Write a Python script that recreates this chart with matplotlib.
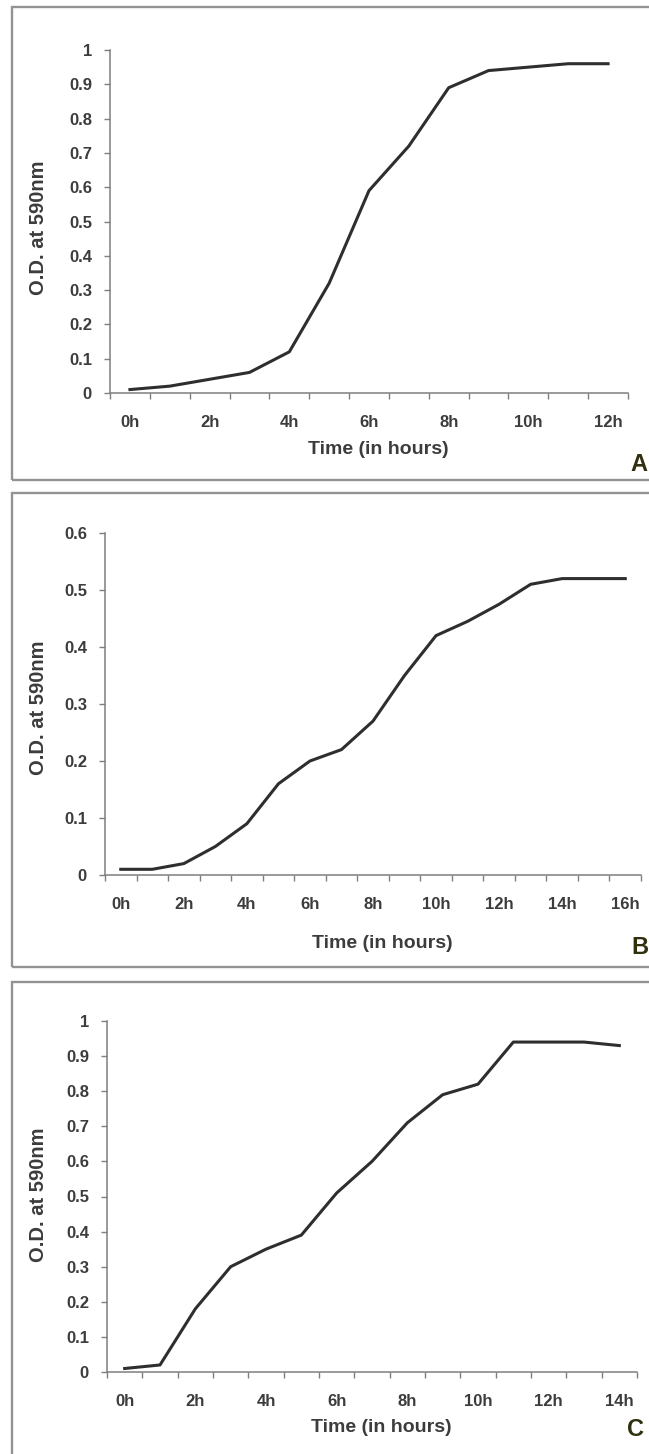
import matplotlib
matplotlib.use("Agg")
import matplotlib.pyplot as plt
from matplotlib.patches import Rectangle
from matplotlib.ticker import MultipleLocator, FixedLocator

W, H = 649, 1454

# panel A: 0h..12h
hours_a = list(range(13))
od_a = [0.01, 0.02, 0.04, 0.06, 0.12, 0.32, 0.59, 0.72, 0.89, 0.94, 0.95, 0.96, 0.96]

# panel B: 0h..16h
hours_b = list(range(17))
od_b = [0.01, 0.01, 0.02, 0.05, 0.09, 0.16, 0.20, 0.22, 0.27, 0.35, 0.42, 0.445, 0.475, 0.51, 0.52, 0.52, 0.52]

# panel C: 0h..14h
hours_c = list(range(15))
od_c = [0.01, 0.02, 0.18, 0.30, 0.35, 0.39, 0.51, 0.60, 0.71, 0.79, 0.82, 0.94, 0.94, 0.94, 0.93]

plt.rcParams['font.family'] = ['Liberation Sans', 'DejaVu Sans']

fig = plt.figure(figsize=(W / 100, H / 100), dpi=100)
fig.patch.set_facecolor('white')


def fx(x):
    return x / W


def fy(y):
    return 1 - y / H


def panel(hours, od, ymax, box, axpx, ylab_y, xlab_y, letter_xy, letter):
    # gray frame around the panel
    bx0, by0, bx1, by1 = box
    fig.patches.append(Rectangle((fx(bx0), fy(by1)), fx(bx1 - bx0), (by1 - by0) / H,
                                 transform=fig.transFigure, fill=False,
                                 edgecolor='#939393', linewidth=1.7))
    l, r, y0, y1 = axpx
    ax = fig.add_axes([fx(l), fy(y0), fx(r - l), (y0 - y1) / H])
    ax.plot(hours, od, color='#2e2e2e', linewidth=2.2, solid_joinstyle='round')
    n = len(hours)
    ax.set_xlim(-0.5, n - 0.5)
    ax.set_ylim(0, ymax)
    for s in ['top', 'right']:
        ax.spines[s].set_visible(False)
    for s in ['left', 'bottom']:
        ax.spines[s].set_color('#7f7f7f')
        ax.spines[s].set_linewidth(1.1)
    ax.xaxis.set_major_locator(FixedLocator(hours[::2]))
    ax.set_xticklabels([f"{h}h" for h in hours[::2]])
    ax.xaxis.set_minor_locator(FixedLocator([h - 0.5 for h in hours] + [n - 0.5]))
    ax.tick_params(axis='x', which='major', length=0, pad=16)
    ax.tick_params(axis='x', which='minor', length=4, width=1, color='#7f7f7f')
    ax.yaxis.set_major_locator(MultipleLocator(0.1))
    ax.set_yticklabels([f"{v:g}" for v in ax.get_yticks()])
    ax.tick_params(axis='y', length=4, width=1, color='#7f7f7f', pad=9)
    for lab in ax.get_xticklabels() + ax.get_yticklabels():
        lab.set_fontweight('bold')
        lab.set_fontsize(12)
        lab.set_color('#3c3c3c')
    fig.text(fx(39), fy(ylab_y), "O.D. at 590nm", rotation=90, ha='center', va='center',
             fontsize=14.5, fontweight='bold', color='#3c3c3c')
    fig.text(fx((l + r) / 2 + 9), fy(xlab_y), "Time (in hours)", ha='center', va='center',
             fontsize=14, fontweight='bold', color='#3c3c3c')
    fig.text(fx(letter_xy[0]), fy(letter_xy[1]), letter, ha='center', va='center',
             fontsize=17, fontweight='bold', color='#30300f')
    return ax


panel(hours_a, od_a, 1.0, (12, 7, 670, 480), (110, 628, 393, 50), 228, 450, (639, 465), 'A')
panel(hours_b, od_b, 0.6, (12, 493, 670, 967), (105, 641, 875, 533), 708, 943, (640, 947), 'B')
panel(hours_c, od_c, 1.0, (12, 982, 670, 1470), (107, 637, 1372, 1021), 1195, 1428, (636, 1430), 'C')

fig.savefig("out.png", dpi=100)
